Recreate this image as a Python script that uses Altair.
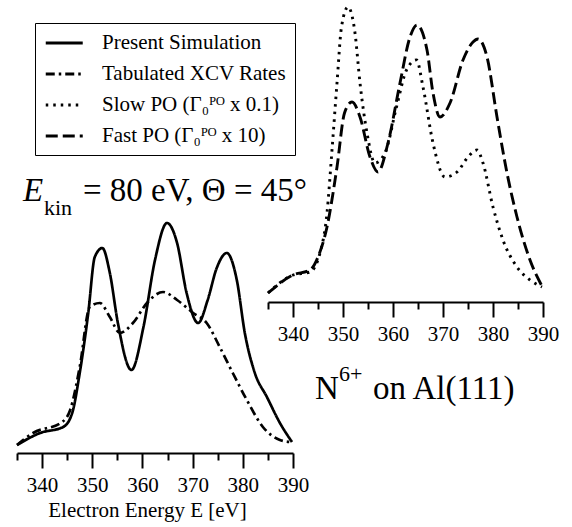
import altair as alt
import pandas as pd

# Electron spectra, N6+ on Al(111), E_kin = 80 eV, Theta = 45 deg (intensity in arbitrary units)
sim_energy = [335, 339.6, 344.2, 346, 347.5, 349.2, 350.5, 352, 353.5, 355.1, 357.8, 360.2,
              362.5, 364.9, 366.9, 368.8, 371.1, 373, 374.8, 376.8, 378.8, 380.4, 382.4,
              384.8, 387.4, 389.8]
sim_intensity = [8, 20, 26, 40, 80, 140, 196, 205, 180, 130, 83, 126,
                 193, 230, 210, 160, 130, 153, 185, 200, 173, 120, 80,
                 56, 30, 11]

xcv_energy = [335, 338.2, 344, 345.6, 347.5, 349.5, 351.5, 353.5, 355.5, 358.1, 360.9,
              364.1, 366.9, 370.1, 372.8, 375.4, 378, 380.8, 384, 387.4, 389.4]
xcv_intensity = [8, 20, 31, 43, 86, 146, 150, 136, 120, 130, 150,
                 161, 153, 140, 130, 106, 80, 53, 26, 13, 11]

slow_energy = [335, 340, 343.4, 345.4, 346.8, 347.8, 348.8, 349.7, 351, 352.4, 353.4,
               354.8, 356.4, 358.4, 360.7, 362.7, 364.7, 366, 368, 370.4, 372.8, 375,
               376.8, 378, 380, 382, 384.8, 387.4, 389.8]
slow_intensity = [9, 27, 30, 49, 89, 152, 219, 275, 295, 269, 219,
                  169, 139, 149, 195, 232, 242, 215, 159, 125, 130, 145,
                  152, 139, 95, 62, 35, 22, 15]

fast_energy = [335, 340, 343.4, 345, 346.8, 348.8, 350.3, 351.8, 353.4, 355.4, 357,
               359, 361.4, 363.4, 364.8, 366.8, 368, 369.4, 371.4, 374, 376, 377,
               378.8, 380.8, 382.8, 384.8, 387.4, 390]
fast_intensity = [9, 27, 32, 45, 75, 135, 189, 200, 185, 145, 130,
                  159, 219, 265, 277, 252, 209, 185, 199, 242, 260, 263,
                  245, 185, 129, 85, 42, 14]

series_names = [
    "Present Simulation",
    "Tabulated XCV Rates",
    "Slow PO (\u0393\u2080\u1d3e\u1d3c x 0.1)",
    "Fast  PO (\u0393\u2080\u1d3e\u1d3c x 10)",
]
tick_values = [335, 340, 345, 350, 355, 360, 365, 370, 375, 380, 385, 390]


def frame(energy, intensity, name):
    return pd.DataFrame({"energy": energy, "intensity": intensity, "series": name})


left_df = pd.concat([frame(sim_energy, sim_intensity, series_names[0]),
                     frame(xcv_energy, xcv_intensity, series_names[1])])
right_df = pd.concat([frame(slow_energy, slow_intensity, series_names[2]),
                      frame(fast_energy, fast_intensity, series_names[3])])

SERIF = "Liberation Serif"

dash_scale = alt.Scale(domain=series_names,
                       range=[[1, 0], [9, 4, 2.5, 4], [2.5, 5], [12, 5]])

# long horizontal stroke sample: runs from -r to 3r, so the row stays compact
legend = alt.Legend(
    title=None, orient="none", legendX=35, legendY=23,
    strokeColor="black", fillColor="white", padding=9,
    symbolType="M-1,0H3", symbolSize=342, symbolStrokeWidth=2.8,
    symbolStrokeColor="black", labelFont=SERIF, labelFontSize=21,
    labelColor="black", labelOffset=36, rowPadding=10, labelLimit=400,
)


def energy_axis(offset, title):
    major = "datum.value % 10 === 0"
    return alt.Axis(
        orient="bottom", offset=offset, values=tick_values,
        labelExpr="datum.value % 10 === 0 ? datum.label : ''",
        tickSize={"condition": {"test": major, "value": 15}, "value": 7},
        tickWidth=2, tickColor="black", domainColor="black", domainWidth=2,
        labelFont=SERIF, labelFontSize=21, labelColor="black", labelPadding=6,
        labelFlush=False, labelOverlap=False, grid=False,
        title=title, titleFont=SERIF, titleFontSize=21, titleFontWeight="normal",
        titleColor="black", titlePadding=4, titleX=147, titleAlign="center",
    )


left = alt.Chart(left_df).mark_line(color="black", strokeWidth=2.7,
                                    interpolate="monotone").encode(
    x=alt.X("energy:Q", scale=alt.Scale(domain=[335, 390], range=[17, 293], nice=False, zero=False),
            axis=energy_axis(-74, "Electron Energy E [eV]")),
    y=alt.Y("intensity:Q", scale=alt.Scale(domain=[0, 300], range=[453, 153]), axis=None),
    strokeDash=alt.StrokeDash("series:N", scale=dash_scale, legend=legend),
)

right = alt.Chart(right_df).mark_line(color="black", strokeWidth=2.9,
                                      interpolate="monotone").encode(
    x=alt.X("energy:Q", scale=alt.Scale(domain=[335, 390], range=[268, 543], nice=False, zero=False),
            axis=energy_axis(-225, None)),
    y=alt.Y("intensity:Q", scale=alt.Scale(domain=[0, 300], range=[302, 2]), axis=None),
    strokeDash=alt.StrokeDash("series:N", scale=dash_scale, legend=legend),
)


def label(text, x, y, size, style="normal"):
    return alt.Chart(alt.Data(values=[{}])).mark_text(
        text=text, font=SERIF, fontSize=size, fontStyle=style, color="black",
        align="left", baseline="alphabetic",
    ).encode(x=alt.value(x), y=alt.value(y))


annotations = [
    label("E", 23, 201, 33, "italic"),
    label("kin", 44, 215, 22),
    label("= 80 eV, \u0398 = 45\u00b0", 83, 201, 33),
    label("N", 315, 399, 33),
    label("6+", 339, 381, 22),
    label("on Al(111)", 373, 399, 33),
]

chart = alt.layer(left, right, *annotations).resolve_scale(
    x="independent", y="independent", strokeDash="shared"
).properties(
    width=572, height=527, padding=0,
    autosize=alt.AutoSizeParams(type="none"),
    background="white",
).configure_view(stroke=None)

chart.save("out.html", embed_options={"renderer": "svg", "actions": False})
